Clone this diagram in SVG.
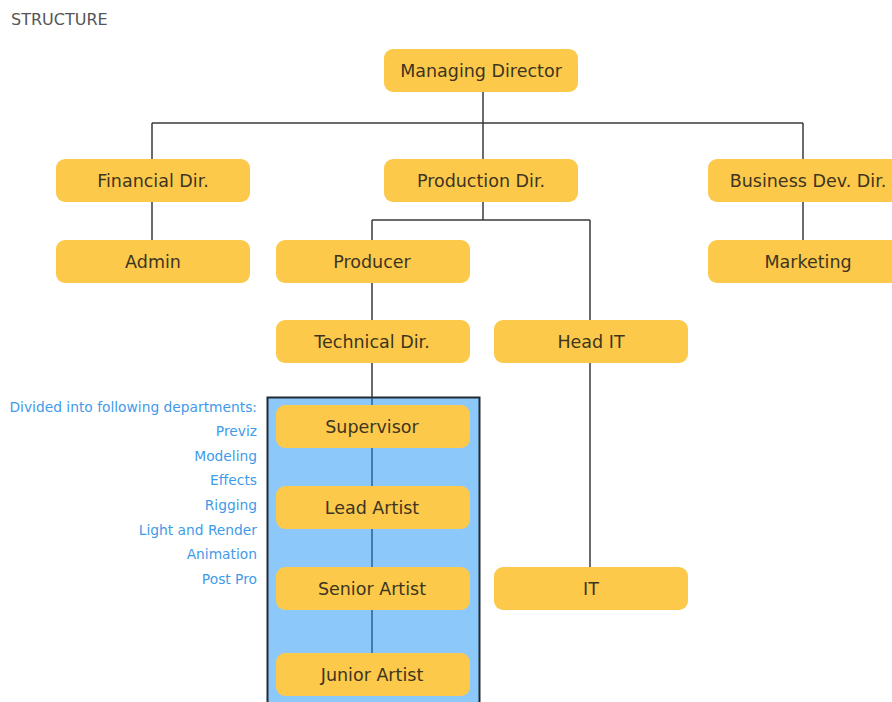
<svg xmlns="http://www.w3.org/2000/svg" width="892" height="702" viewBox="0 0 892 702">
<style>
.n{fill:#FCC94B}
.t{font-family:"DejaVu Sans",sans-serif;font-size:17.5px;fill:#3d3520;text-anchor:middle;dominant-baseline:central}
.c{stroke:#3a3a3a;stroke-width:1.5;fill:none}
.ci{stroke:#2f5f86;stroke-width:1.5;fill:none}
.d{font-family:"DejaVu Sans",sans-serif;font-size:13.8px;fill:#3f9bea;text-anchor:end}
</style>
<rect width="892" height="702" fill="#ffffff"/>
<text x="11" y="25" font-family="DejaVu Sans, sans-serif" font-size="16" fill="#555555">STRUCTURE</text>
<rect id="dept-box" x="267.5" y="397.5" width="212" height="306" fill="#8DC8FA" stroke="#1f2a33" stroke-width="2"/>
<g id="connectors">
<path class="c" d="M483 91V159M152 123H803M152 123V160M803 123V160M152 202V240M803 202V240M483 202V220M372 220H590M372 220V240M590 220V320M372 282V320M372 362V397"/>
<path class="c" d="M590 362V567"/>
<path class="ci" d="M372 398V653"/>
</g>
<g id="managing-director"><rect class="n" x="384" y="49" width="194" height="43" rx="9"/><text class="t" x="481" y="71">Managing Director</text></g>
<g id="financial-dir"><rect class="n" x="56" y="159" width="194" height="43" rx="9"/><text class="t" x="153" y="181">Financial Dir.</text></g>
<g id="production-dir"><rect class="n" x="384" y="159" width="194" height="43" rx="9"/><text class="t" x="481" y="181">Production Dir.</text></g>
<g id="business-dev-dir"><rect class="n" x="708" y="159" width="194" height="43" rx="9"/><text class="t" x="808" y="181">Business Dev. Dir.</text></g>
<g id="admin"><rect class="n" x="56" y="240" width="194" height="43" rx="9"/><text class="t" x="153" y="262">Admin</text></g>
<g id="producer"><rect class="n" x="276" y="240" width="194" height="43" rx="9"/><text class="t" x="372" y="262">Producer</text></g>
<g id="marketing"><rect class="n" x="708" y="240" width="194" height="43" rx="9"/><text class="t" x="808" y="262">Marketing</text></g>
<g id="technical-dir"><rect class="n" x="276" y="320" width="194" height="43" rx="9"/><text class="t" x="372" y="342">Technical Dir.</text></g>
<g id="head-it"><rect class="n" x="494" y="320" width="194" height="43" rx="9"/><text class="t" x="591" y="342">Head IT</text></g>
<g id="supervisor"><rect class="n" x="276" y="405" width="194" height="43" rx="9"/><text class="t" x="372" y="427">Supervisor</text></g>
<g id="lead-artist"><rect class="n" x="276" y="486" width="194" height="43" rx="9"/><text class="t" x="372" y="508">Lead Artist</text></g>
<g id="senior-artist"><rect class="n" x="276" y="567" width="194" height="43" rx="9"/><text class="t" x="372" y="589">Senior Artist</text></g>
<g id="it"><rect class="n" x="494" y="567" width="194" height="43" rx="9"/><text class="t" x="591" y="589">IT</text></g>
<g id="junior-artist"><rect class="n" x="276" y="653" width="194" height="43" rx="9"/><text class="t" x="372" y="675">Junior Artist</text></g>
<g id="departments">
<text class="d" x="257" y="412">Divided into following departments:</text>
<text class="d" x="257" y="436">Previz</text>
<text class="d" x="257" y="461">Modeling</text>
<text class="d" x="257" y="485">Effects</text>
<text class="d" x="257" y="510">Rigging</text>
<text class="d" x="257" y="535">Light and Render</text>
<text class="d" x="257" y="559">Animation</text>
<text class="d" x="257" y="584">Post Pro</text>
</g>
</svg>
